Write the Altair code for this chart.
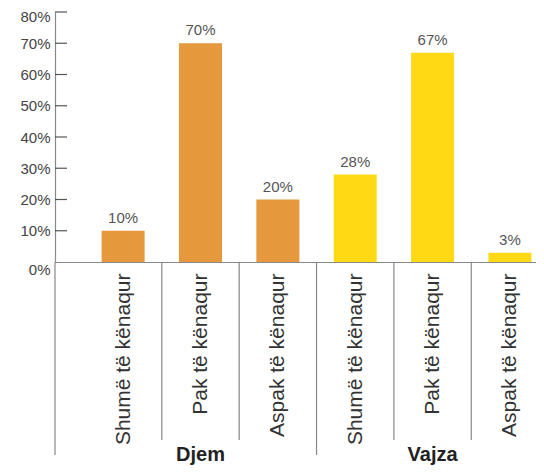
import altair as alt
import pandas as pd

groups = ["Djem", "Djem", "Djem", "Vajza", "Vajza", "Vajza"]
categories = ["Shumë të kënaqur", "Pak të kënaqur", "Aspak të kënaqur",
              "Shumë të kënaqur", "Pak të kënaqur", "Aspak të kënaqur"]
values = [10, 70, 20, 28, 67, 3]
y_ticks = [0, 10, 20, 30, 40, 50, 60, 70, 80]
group_names = ["Djem", "Vajza"]
group_colors = ["#E6983C", "#FFD914"]

idx = list(range(len(values)))
df = pd.DataFrame({"i": idx, "group": groups, "cat": categories, "v": values,
                   "lab": [f"{v}%" for v in values]})

# separators between bars (long ones at group boundaries)
sep_df = pd.DataFrame({"b": [i - 0.5 for i in idx[1:]],
                       "long": [groups[i] != groups[i - 1] for i in idx[1:]]})
tick_df = pd.DataFrame({"t": y_ticks})
grp_df = pd.DataFrame({"i": [1, 4], "g": group_names})

W, H = 481, 250
label_expr = "{" + ",".join(f"'{i}':'{c}'" for i, c in zip(idx, categories)) + "}[datum.value]"

xscale = alt.Scale(domain=[-0.816, 5.272], nice=False, zero=False)
yscale = alt.Scale(domain=[0, 80], nice=False)
FONT = "Liberation Sans"

bars = alt.Chart(df).mark_bar(size=43).encode(
    x=alt.X("i:Q", scale=xscale, title=None,
            axis=alt.Axis(values=idx, labelExpr=label_expr, labelAngle=270,
                          labelAlign="right", labelBaseline="middle",
                          labelPadding=11, labelFontSize=21, labelColor="#333333")),
    y=alt.Y("v:Q", scale=yscale, title=None,
            axis=alt.Axis(values=y_ticks, tickCount=9, labelExpr="datum.value + '%'",
                          labelOffset={"condition": [
                              {"test": "datum.value == 0", "value": 7},
                              {"test": "datum.value == 80", "value": 4}], "value": 0})),
    color=alt.Color("group:N", scale=alt.Scale(domain=group_names, range=group_colors), legend=None),
)

texts = alt.Chart(df).mark_text(baseline="bottom", dy=-5, fontSize=15, color="#555555", font=FONT).encode(
    x=alt.X("i:Q", scale=xscale),
    y=alt.Y("v:Q", scale=yscale),
    text="lab:N",
)

seps_short = alt.Chart(sep_df[~sep_df.long]).mark_rule(color="#888888", strokeWidth=1.2).encode(
    x=alt.X("b:Q", scale=xscale),
    y=alt.value(H),
    y2=alt.value(H + 178),
)
seps_long = alt.Chart(sep_df[sep_df.long]).mark_rule(color="#888888", strokeWidth=1.2).encode(
    x=alt.X("b:Q", scale=xscale),
    y=alt.value(H),
    y2=alt.value(H + 193),
)

left_line = alt.Chart(tick_df.head(1)).mark_rule(color="#888888", strokeWidth=1.2).encode(
    x=alt.value(0), y=alt.value(H), y2=alt.value(H + 193)
)

yticks = alt.Chart(tick_df[tick_df.t > 0]).mark_rule(color="#555555", strokeWidth=1.2).encode(
    x=alt.value(0), x2=alt.value(12), y=alt.Y("t:Q", scale=yscale)
)

grp = alt.Chart(grp_df).mark_text(fontSize=20, fontWeight="bold", color="#222222",
                                  font=FONT, baseline="alphabetic").encode(
    x=alt.X("i:Q", scale=xscale),
    y=alt.value(H + 199),
    text="g:N",
)

chart = alt.layer(bars, texts, seps_short, seps_long, left_line, yticks, grp).properties(
    width=W, height=H,
    autosize=alt.AutoSizeParams(type="none"),
    padding={"left": 47, "top": 4, "right": 0, "bottom": 203},
).configure_view(stroke=None).configure_axis(
    labelFont=FONT, ticks=False, grid=False, labelOverlap=False,
    domainColor="#888888", domainWidth=1.2,
).configure_axisY(
    labelFontSize=15, labelColor="#444444", labelPadding=5,
)

chart.save("out.html", embed_options={"renderer": "svg", "actions": False})
